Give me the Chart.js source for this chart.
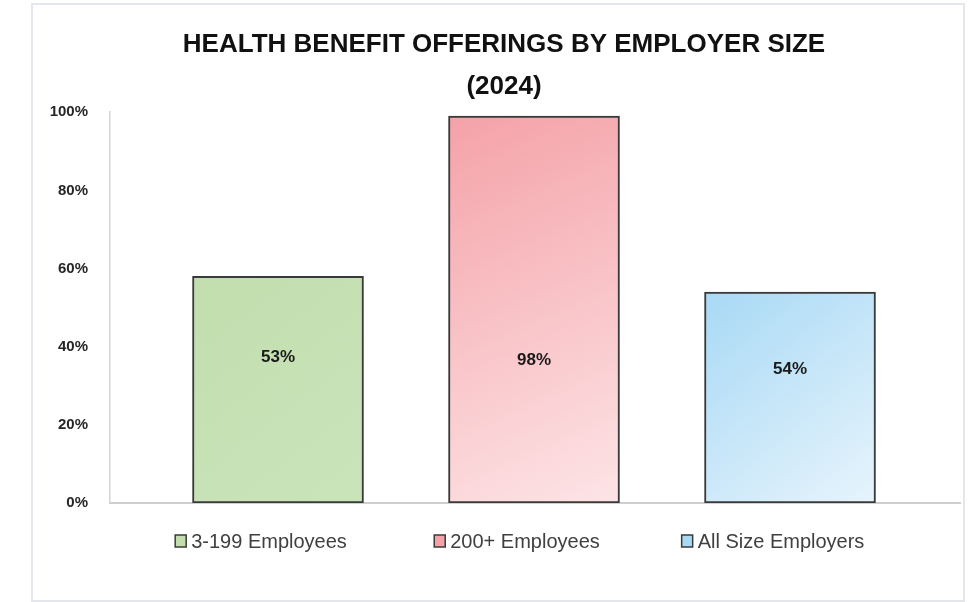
<!DOCTYPE html>
<html>
<head>
<meta charset="utf-8">
<script src="https://cdn.jsdelivr.net/npm/chart.js@4"></script>
<style>
  html, body { margin: 0; padding: 0; background: #ffffff; }
  #wrap {
    position: absolute; left: 31px; top: 3px;
    width: 934px; height: 599px;
    box-sizing: border-box;
    border: 2px solid #e3e7ec;
    background: #ffffff;
  }
  canvas { display: block; }
</style>
</head>
<body>
<div id="wrap"><canvas id="chart" width="930" height="595"></canvas></div>
<script>
// Datos
const categories = ["3-199 Employees", "200+ Employees", "All Size Employers"];
const barValues = [58, 99, 54];
const labelTexts = ["53%", "98%", "54%"];
const labelPositions = [37.2, 36.5, 34.2];
const yTicks = [0, 20, 40, 60, 80, 100];
const titleLines = ["HEALTH BENEFIT OFFERINGS BY EMPLOYER SIZE", "(2024)"];

// Colores (inicio / fin del degradado)
const colorsStart = ["#c2deae", "#f4a2a8", "#a8d9f5"];
const colorsEnd = ["#cae4ba", "#fde4e6", "#e7f4fc"];

const BAR_W = 171;
const X_LABEL_OFFSET = -9;
const axisFont = { family: "'Liberation Sans', Arial, sans-serif", size: 20 };

function barGradient(ctx) {
    const chart = ctx.chart;
    const i = ctx.dataIndex;
    if (!chart.chartArea || ctx.type !== "data") return colorsStart[i];
    const xs = chart.scales.x, ys = chart.scales.y;
    const cx = xs.getPixelForValue(i + 1);
    const top = ys.getPixelForValue(barValues[i]);
    const bot = ys.getPixelForValue(0);
    const g = chart.ctx.createLinearGradient(cx - BAR_W / 2, top, cx + BAR_W / 2, bot);
    g.addColorStop(0, colorsStart[i]);
    g.addColorStop(1, colorsEnd[i]);
    return g;
}

// Etiquetas dentro de las barras
const barLabels = {
    id: "barLabels",
    afterDatasetsDraw(chart) {
        const c = chart.ctx, xs = chart.scales.x, ys = chart.scales.y;
        c.save();
        c.font = "bold 17px 'Liberation Sans', Arial, sans-serif";
        c.fillStyle = "#1a1a1a";
        c.textAlign = "center";
        c.textBaseline = "middle";
        labelTexts.forEach((t, i) => {
            c.fillText(t, xs.getPixelForValue(i + 1), ys.getPixelForValue(labelPositions[i]));
        });
        c.restore();
    }
};

// Cuadritos de leyenda junto a las etiquetas del eje X
const legendBoxes = {
    id: "legendBoxes",
    afterDraw(chart) {
        const c = chart.ctx, xs = chart.scales.x;
        c.save();
        c.font = axisFont.size + "px " + axisFont.family;
        const ty = xs.top + xs.options.ticks.padding + axisFont.size * 0.6;
        categories.forEach((name, i) => {
            const tw = c.measureText(name).width;
            const cx = xs.getPixelForValue(i + 1) + X_LABEL_OFFSET;
            const left = cx - tw / 2 - 16;
            c.fillStyle = colorsStart[i];
            c.fillRect(left, ty - 7, 11, 12);
            c.strokeStyle = "#3a3a3a";
            c.lineWidth = 1.5;
            c.strokeRect(left, ty - 7, 11, 12);
        });
        c.restore();
    }
};

new Chart(document.getElementById("chart").getContext("2d"), {
    type: "bar",
    data: {
        datasets: [{
            data: barValues.map((v, i) => ({ x: i + 1, y: v })),
            backgroundColor: barGradient,
            borderColor: "#3a3a3a",
            borderWidth: 2,
            borderSkipped: false,
            barThickness: BAR_W
        }]
    },
    options: {
        responsive: false,
        animation: false,
        layout: { padding: { left: 15, right: 3, top: 0, bottom: 19 } },
        scales: {
            x: {
                type: "linear",
                offset: false,
                min: 0.34375,
                max: 3.664,
                grid: { display: false, drawTicks: false, offset: false },
                border: { display: true, color: "#cfcfcf", width: 2 },
                afterBuildTicks: axis => { axis.ticks = categories.map((c, i) => ({ value: i + 1 })); },
                ticks: {
                    padding: 27,
                    maxRotation: 0,
                    autoSkip: false,
                    labelOffset: X_LABEL_OFFSET,
                    color: "#404040",
                    font: axisFont,
                    callback: v => categories[v - 1]
                }
            },
            y: {
                min: 0,
                max: 100,
                afterBuildTicks: axis => { axis.ticks = yTicks.map(v => ({ value: v })); },
                afterFit: axis => { axis.width = 62; },
                grid: { display: false, drawTicks: false },
                border: { display: true, color: "#d4d4d4", width: 1.5 },
                ticks: {
                    padding: 22,
                    color: "#262626",
                    font: { family: "'Liberation Sans', Arial, sans-serif", size: 15, weight: "bold" },
                    callback: v => v + "%"
                }
            }
        },
        plugins: {
            legend: { display: false },
            tooltip: { enabled: false },
            title: {
                display: true,
                text: titleLines,
                color: "#111111",
                font: { family: "'Liberation Sans', Arial, sans-serif", size: 26, weight: "bold", lineHeight: 1.6 },
                padding: { top: 19, bottom: 5 }
            }
        }
    },
    plugins: [barLabels, legendBoxes]
});
</script>
</body>
</html>
